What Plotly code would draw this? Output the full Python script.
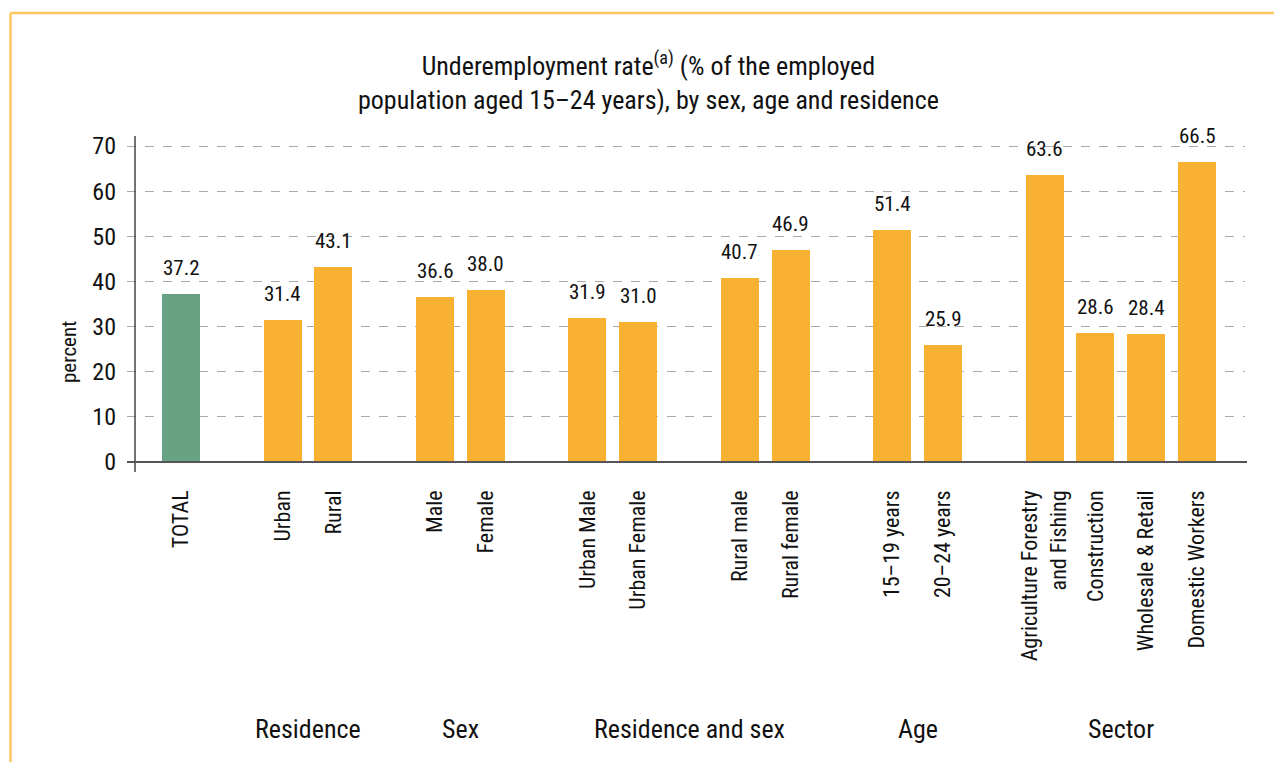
import plotly.graph_objects as go

# Bar categories, their slot on the x axis, and values (% of employed aged 15-24)
categories = ["TOTAL", "Urban", "Rural", "Male", "Female", "Urban Male", "Urban Female",
              "Rural male", "Rural female", "15\u201319 years", "20\u201324 years",
              "Agriculture Forestry<br>and Fishing", "Construction", "Wholesale & Retail",
              "Domestic Workers"]
slots = [0, 2, 3, 5, 6, 8, 9, 11, 12, 14, 15, 17, 18, 19, 20]
values = [37.2, 31.4, 43.1, 36.6, 38.0, 31.9, 31.0, 40.7, 46.9, 51.4, 25.9,
          63.6, 28.6, 28.4, 66.5]

# Group headings placed under each set of bars (first and last slot of the group)
groups = ["Residence", "Sex", "Residence and sex", "Age", "Sector"]
group_spans = [(2, 3), (5, 6), (8, 12), (14, 15), (17, 20)]

y_ticks = [0, 10, 20, 30, 40, 50, 60, 70]

GREEN = "#66A283"
ORANGE = "#F8B133"
FONT = "Roboto Condensed, Liberation Sans Narrow, Arial Narrow, DejaVu Sans Condensed, Roboto, sans-serif"

W, H = 1274, 762
L, R, T, B = 127, 29, 137, 300
PW, PH = W - L - R, H - T - B


def px_x(p):
    return (p - L) / PW


def px_y(p):
    return (H - B - p) / PH


colors = [GREEN] + [ORANGE] * (len(values) - 1)

fig = go.Figure(go.Bar(x=slots, y=values, width=0.75, marker_color=colors,
                       marker_line_width=0, hoverinfo="x+y"))

annotations = []
for s, v in zip(slots, values):
    annotations.append(dict(x=s, y=v, xref="x", yref="y", text=f"{v:.1f}", showarrow=False,
                            yanchor="middle", yshift=26, font=dict(size=21, color="#111")))

for g, (a, b) in zip(groups, group_spans):
    annotations.append(dict(x=(a + b) / 2, y=px_y(729), xref="x", yref="paper", text=g,
                            showarrow=False, yanchor="middle", font=dict(size=26, color="#111")))

annotations.append(dict(x=px_x(648), y=px_y(80.5), xref="paper", yref="paper",
                        text="Underemployment rate<sup>(a)</sup> (% of the employed<br>"
                             "population aged 15\u201324 years), by sex, age and residence",
                        showarrow=False, yanchor="middle", xanchor="center",
                        font=dict(size=26, color="#111")))

annotations.append(dict(x=px_x(55), y=px_y(352), xref="paper", yref="paper", text="percent",
                        showarrow=False, textangle=-90, font=dict(size=21, color="#111")))

shapes = [
    # frame around the chart (top and left edges)
    dict(type="line", xref="paper", yref="paper", x0=px_x(10.5), x1=px_x(W + 5),
         y0=px_y(13), y1=px_y(13), line=dict(color="#FCC762", width=2.5)),
    dict(type="line", xref="paper", yref="paper", x0=px_x(10.5), x1=px_x(10.5),
         y0=px_y(13), y1=px_y(H + 5), line=dict(color="#FCC762", width=2.5)),
    # vertical axis line
    dict(type="line", xref="paper", yref="paper", x0=px_x(135), x1=px_x(135),
         y0=px_y(136), y1=px_y(472), line=dict(color="#444", width=1.5)),
    # baseline
    dict(type="line", xref="paper", yref="paper", x0=0, x1=px_x(1247),
         y0=0, y1=0, line=dict(color="#555", width=2)),
]

fig.update_layout(
    width=W, height=H,
    margin=dict(l=L, r=R, t=T, b=B),
    paper_bgcolor="white", plot_bgcolor="white",
    font=dict(family=FONT, color="#111"),
    showlegend=False, bargap=0,
    annotations=annotations, shapes=shapes,
    xaxis=dict(range=[-(181 - L) / 50.8, (L + PW - 181) / 50.8], tickmode="array",
               tickvals=slots, ticktext=categories, tickangle=-90, showgrid=False,
               zeroline=False, showline=False, ticks="", ticklabelstandoff=23,
               tickfont=dict(size=22, color="#111")),
    yaxis=dict(range=[0, 72], tickmode="array", tickvals=y_ticks, showgrid=True,
               gridcolor="#AAAAAA", griddash="dash", gridwidth=1, zeroline=False,
               showline=False, ticks="", ticklabelstandoff=10,
               tickfont=dict(size=24, color="#111")),
)

fig.write_html("out.html")
